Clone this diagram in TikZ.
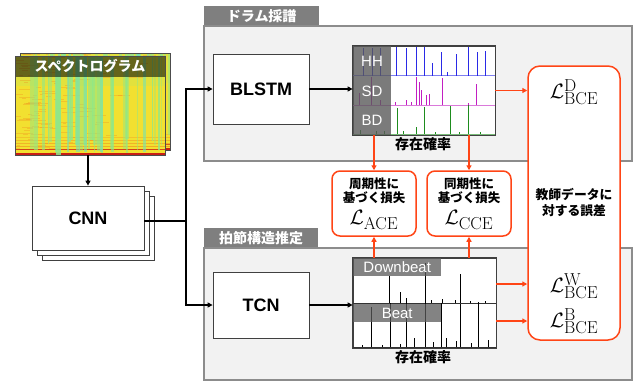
\documentclass[tikz,border=0pt]{standalone}
\usepackage[no-math]{fontspec}
\setmainfont{Liberation Sans}
\newfontfamily\jp{Noto Sans CJK JP}
\usetikzlibrary{arrows.meta}
\DeclareMathSizes{20.74}{20.74}{16}{12}
\definecolor{oranger}{HTML}{FF4516}
\definecolor{regfill}{HTML}{F2F2F2}
\definecolor{regline}{HTML}{8C8C8C}
\definecolor{barcol}{HTML}{7F7F7F}
\definecolor{hhc}{HTML}{2A2AE6}
\definecolor{sdc}{HTML}{C21FC2}
\definecolor{bdc}{HTML}{1E8C1E}
\definecolor{specY}{HTML}{F2E030}
\definecolor{specG}{HTML}{8CE88C}
\definecolor{specC}{HTML}{74E2B4}
\definecolor{specO}{HTML}{F09020}
\definecolor{specR}{HTML}{C81E14}
\definecolor{labcol}{HTML}{5A5A5A}
\newcommand\drawspecto[5]{%
  \begin{scope}
    \clip (#1,#2) rectangle (#3,#4);
    \fill[specY] (#1,#2) rectangle (#3,#4);
    \fill[specG,opacity=0.15] (#1,#2) rectangle (#3,#2+30);
    \pgfmathsetseed{#5}
    \foreach \k in {1,...,110}{
      \pgfmathsetmacro\xa{#1+150*rnd*rnd}
      \pgfmathsetmacro\ya{#2+99*rnd}
      \pgfmathsetmacro\la{3+14*rnd}
      \fill[specO,opacity=0.35] (\xa,\ya) rectangle (\xa+\la,\ya+1);
    }
    \foreach \yy/\oo in {81/0.35,84/0.45,87/0.55,90/0.65,93/0.8}{
      \fill[specO,opacity=\oo] (#1,#2+\yy) rectangle (#3,#2+\yy+1.2);
    }
    \fill[specR,opacity=0.7] (#1,#4-6) rectangle (#3,#4-5);
    \fill[specR] (#1,#4-2.5) rectangle (#3,#4);
    \foreach \k in {1,...,30}{
      \pgfmathsetmacro\xa{#1+12+138*rnd}
      \pgfmathsetmacro\wa{0.8+3.5*rnd}
      \pgfmathsetmacro\ya{#4-16+14*rnd}
      \pgfmathsetmacro\oa{0.35+0.45*rnd}
      \fill[specG,opacity=\oa] (\xa,#2) rectangle (\xa+\wa,\ya);
    }
    \foreach \k in {1,...,7}{
      \pgfmathsetmacro\xa{#1+20+125*rnd}
      \pgfmathsetmacro\wa{1+3*rnd}
      \fill[specC,opacity=0.6] (\xa,#2) rectangle (\xa+\wa,#4-3);
    }
    \fill[specG,opacity=0.85] (#1+41,#2) rectangle (#1+46,#4);
  \end{scope}}
\begin{document}
\begin{tikzpicture}[x=1pt,y=-1pt,
  region/.style={draw=regline,fill=regfill,line width=1.5pt,anchor=north west,inner sep=0pt},
  regionlabel/.style={fill=barcol,text=white,font={\jp\bfseries\fontsize{14}{14}\selectfont},anchor=north west,inner sep=0pt,minimum height=19pt},
  blk/.style={draw=black!75,fill=white,line width=0.8pt,inner sep=0pt,font={\bfseries\fontsize{18}{18}\selectfont}},
  plotbox/.style={draw=black!75,fill=white,line width=0.8pt,inner sep=0pt},
  lossbox/.style={draw=oranger,fill=white,line width=1.5pt,rounded corners=8pt,inner sep=0pt,minimum width=84pt,minimum height=65pt},
  jptext/.style={font={\jp\bfseries\fontsize{12.5}{14.5}\selectfont},align=center,inner sep=0pt},
  mathtext/.style={font={\fontsize{20.74}{24}\selectfont},inner sep=0pt},
  celltext/.style={text=white,font={\fontsize{15}{15}\selectfont},inner sep=0pt},
  beatbar/.style={fill=labcol,fill opacity=0.75,text opacity=1,text=white,font={\fontsize{15}{15}\selectfont},anchor=north west,inner sep=0pt,minimum width=88pt,minimum height=18pt},
  barr/.style={draw=black,line width=1.3pt,-{Triangle[length=5pt,width=5pt]}},
  oarr/.style={draw=oranger,line width=1.5pt,-{Triangle[length=5pt,width=5pt]}},
  capt/.style={font={\jp\bfseries\fontsize{14}{14}\selectfont},inner sep=0pt}
]
\useasboundingbox (0,0) rectangle (635,381);

% regions
\node[region,minimum width=428pt,minimum height=135pt] (drumreg) at (203,25) {};
\node[regionlabel,minimum width=115pt] (drumlab) at (204,6) {ドラム採譜};
\node[region,minimum width=428pt,minimum height=132pt] (beatreg) at (203,247) {};
\node[regionlabel,minimum width=114pt] (beatlab) at (204,228) {拍節構造推定};

% spectrograms
\drawspecto{20}{53}{170}{150}{11}
\node[draw=black!70,line width=0.8pt,minimum width=150pt,minimum height=97pt,inner sep=0pt] (spec2) at (95,101.5) {};
\drawspecto{15}{56}{165}{155}{5}
\fill[black,opacity=0.55] (15,56) rectangle (165,77);
\node[draw=black!70,line width=0.8pt,minimum width=150pt,minimum height=99pt,inner sep=0pt] (spec) at (90,105.5) {};
\node[text=white,font={\jp\bfseries\fontsize{14}{14}\selectfont},inner sep=0pt] (spectitle) at (90,66.5) {スペクトログラム};

% CNN stack
\node[blk,minimum width=112pt,minimum height=64pt] (cnn3) at (98,228) {};
\node[blk,minimum width=112pt,minimum height=64pt] (cnn2) at (93,223) {};
\node[blk,minimum width=112pt,minimum height=64pt] (cnn) at (88,218) {CNN};

% BLSTM / TCN
\node[blk,minimum width=96pt,minimum height=70pt] (blstm) at (261,89) {BLSTM};
\node[blk,minimum width=96pt,minimum height=66pt] (tcn) at (261,305) {TCN};

% connectors (black)
\draw[barr] (cnn.north |- spec.south) -- (cnn.north);
\coordinate (split) at (186,221);
\draw[line width=1.3pt] (cnn.east |- split) -- (split);
\draw[barr] (split) |- (blstm.west);
\draw[barr] (split) |- (tcn.west);

% drum plot
\node[plotbox,minimum width=142pt,minimum height=89pt] (drum) at (424,90.5) {};
\draw[hhc!60,line width=0.8pt] (353,75.5) -- (495,75.5);
\draw[sdc!60,line width=0.8pt] (353,105) -- (495,105);
\draw[bdc!60,line width=0.8pt] (353,134) -- (495,134);
\foreach \x/\t in {363/48,372/48,380/48,396.7/47.3,406.7/48.3,416/47.3,424/47.3,432.7/63,441.7/51.7,447.3/72,456.7/54,468.3/47.3,477.3/52,485.7/50.7}
  \draw[hhc,line width=0.8pt] (\x,75.5) -- (\x,\t);
\foreach \x/\t in {359/93,371.7/76.7,380/100,395.7/101.7,406.7/100,411/101.7,416/76.7,419/81.7,421.7/90,426/95,429.3/94.3,442.7/78.3,468.3/103,476.7/84.3}
  \draw[sdc,line width=0.8pt] (\x,105) -- (\x,\t);
\foreach \x/\t in {360/130,376/131,384/131,397.3/107.7,403/131,416/126.7,424/106.7,435/132,450/106,459/132,468.3/105,480/132}
  \draw[bdc,line width=0.8pt] (\x,134) -- (\x,\t);
\fill[labcol,opacity=0.8] (353,46) rectangle (391,135);
\draw[black!75,line width=0.8pt] (drum.north west) rectangle (drum.south east);
\node[celltext] (hh) at (372,61.5) {HH};
\node[celltext] (sd) at (372,91) {SD};
\node[celltext] (bd) at (372,120.5) {BD};
\node[capt] (drumcap) at (423,144) {存在確率};

% beat plot
\node[plotbox,minimum width=143pt,minimum height=90pt] (beat) at (424.5,303) {};
\draw[black!80,line width=0.7pt] (353,303) -- (496,303);
\draw[black!80,line width=0.7pt] (353,347) -- (496,347);
\foreach \x/\t in {389.3/276,400/291.7,406.7/297.7,425/263.3,431.7/300,442.7/299.3,455/300,460.7/274,470/301,485/301}
  \draw[black,line width=0.8pt] (\x,303) -- (\x,\t);
\foreach \x/\t in {371.7/307.3,390/303.3,406.7/302.7,425/302.7,441.7/303.3,460.7/304,478.3/301.7,400/344,414/338,433.3/341.7,446.7/338,456.7/340.7,471/342.7,488.3/340,362/345,382/345}
  \draw[black,line width=0.8pt] (\x,347) -- (\x,\t);
\node[beatbar] (dblab) at (353,258) {Downbeat};
\node[beatbar] (blab) at (353,304) {Beat};
\draw[black!75,line width=0.8pt] (beat.north west) rectangle (beat.south east);
\node[capt] (beatcap) at (423,357) {存在確率};

\draw[barr] (blstm.east) -- (blstm.east -| drum.west);
\draw[barr] (tcn.east) -- (tcn.east -| beat.west);

% loss boxes
\node[lossbox] (ace) at (374,203.5) {};
\node[lossbox] (cce) at (469,203.5) {};
\node[jptext] (acetxt) at (374,191) {周期性に\\基づく損失};
\node[mathtext] (acel) at (374,220) {$\mathcal{L}_{\mathrm{ACE}}$};
\node[jptext] (ccetxt) at (469,191) {同期性に\\基づく損失};
\node[mathtext] (ccel) at (469,220) {$\mathcal{L}_{\mathrm{CCE}}$};

\node[draw=oranger,fill=white,line width=1.5pt,rounded corners=12pt,inner sep=0pt,minimum width=92pt,minimum height=274pt] (bce) at (574,203) {};
\node[mathtext] (lD) at (574,92) {$\mathcal{L}^{\mathrm{D}}_{\mathrm{BCE}}$};
\node[jptext,font={\jp\bfseries\fontsize{12.8}{16}\selectfont}] (teach) at (574,202) {教師データに\\対する誤差};
\node[mathtext] (lW) at (574,286) {$\mathcal{L}^{\mathrm{W}}_{\mathrm{BCE}}$};
\node[mathtext] (lB) at (574,321) {$\mathcal{L}^{\mathrm{B}}_{\mathrm{BCE}}$};

% orange connectors
\draw[oarr] (ace.north |- drum.south) -- (ace.north);
\draw[oarr] (cce.north |- drum.south) -- (cce.north);
\draw[oarr] (ace.south |- beat.north) -- (ace.south);
\draw[oarr] (cce.south |- beat.north) -- (cce.south);
\draw[oarr] (drum.east) -- (drum.east -| bce.west);
\coordinate (bw) at (496,284);
\coordinate (bb) at (496,321);
\draw[oarr] (bw) -- (bw -| bce.west);
\draw[oarr] (bb) -- (bb -| bce.west);
\end{tikzpicture}
\end{document}
